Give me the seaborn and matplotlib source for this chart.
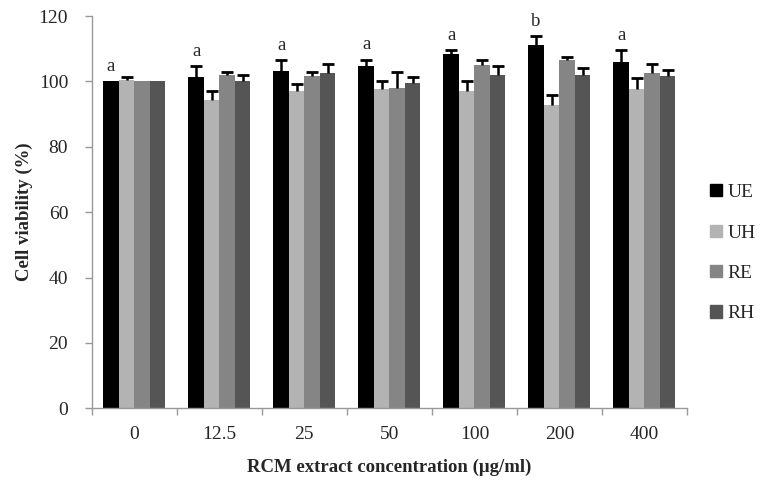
import numpy as np
import pandas as pd
import matplotlib.pyplot as plt
import seaborn as sns

# Data
concentrations = ["0", "12.5", "25", "50", "100", "200", "400"]
groups = ["UE", "UH", "RE", "RH"]
ue = [100.0, 101.2, 103.2, 104.6, 108.5, 111.0, 105.9]
uh = [100.5, 94.3, 97.0, 97.6, 97.0, 92.7, 97.6]
re = [100.0, 102.0, 101.8, 98.0, 104.9, 106.6, 102.7]
rh = [100.0, 100.2, 102.7, 99.6, 102.0, 102.0, 101.8]
ue_err = [0.0, 3.5, 3.2, 2.0, 1.0, 2.8, 3.6]
uh_err = [0.8, 2.8, 2.1, 2.4, 3.0, 3.2, 3.4]
re_err = [0.0, 0.9, 1.1, 5.0, 1.5, 0.8, 2.7]
rh_err = [0.0, 1.9, 2.5, 1.7, 2.7, 2.0, 1.6]
letters = ["a", "a", "a", "a", "a", "b", "a"]

colors = ["#000000", "#b3b3b3", "#858585", "#555555"]

df = pd.DataFrame({
    "conc": concentrations * 4,
    "group": np.repeat(groups, len(concentrations)),
    "value": ue + uh + re + rh,
})
errs = [ue_err, uh_err, re_err, rh_err]

sns.set_style("white")
plt.rcParams["font.family"] = ["Liberation Serif", "DejaVu Serif"]

fig, ax = plt.subplots(figsize=(7.78, 4.86), dpi=100)
fig.subplots_adjust(left=0.118, right=0.883, bottom=0.16, top=0.967)

sns.barplot(data=df, x="conc", y="value", hue="group", order=concentrations,
            hue_order=groups, palette=colors, width=0.73, saturation=1,
            errorbar=None, linewidth=0, ax=ax, legend=False)

# upper-only error bars, positioned from the drawn bars
for cont, err in zip(ax.containers, errs):
    pts = [(p.get_x() + p.get_width() / 2, p.get_height(), e)
           for p, e in zip(cont.patches, err) if e > 0]
    xs, hs, es = zip(*pts)
    _, caps, _ = ax.errorbar(xs, hs, yerr=[np.zeros(len(es)), es], fmt="none",
                             ecolor="black", elinewidth=1.8, capsize=4.5,
                             capthick=2)
    caps[0].set_visible(False)  # no cap at the bar top

# significance letters above UE bars
for p, e, t in zip(ax.containers[0].patches, ue_err, letters):
    ax.text(p.get_x() + p.get_width() / 2, p.get_height() + e + 2.0, t,
            ha="center", va="bottom", fontsize=13.5)

ax.set_ylim(0, 120)
ax.set_yticks(range(0, 121, 20))
ax.set_xlim(-0.5, len(concentrations) - 0.5)
ax.set_xticks(np.arange(-0.5, len(concentrations)), minor=True)
ax.tick_params(axis="x", which="major", length=0, pad=13, labelsize=14)
ax.tick_params(axis="x", which="minor", length=5, width=1, color="#999999",
               direction="out", bottom=True)
ax.tick_params(axis="y", length=5, width=1, color="#999999", direction="out",
               pad=12, labelsize=14, left=True)

for s in ["top", "right"]:
    ax.spines[s].set_visible(False)
for s in ["left", "bottom"]:
    ax.spines[s].set_color("#999999")
    ax.spines[s].set_linewidth(1)

ax.set_xlabel("RCM extract concentration (μg/ml)", fontsize=13.5,
              fontweight="bold", labelpad=11)
ax.set_ylabel("Cell viability (%)", fontsize=13.5, fontweight="bold",
              labelpad=4)

handles = [plt.Rectangle((0, 0), 1, 1, color=c) for c in colors]
fig.legend(handles, groups, loc="center left", bbox_to_anchor=(0.89, 0.479),
           frameon=False, fontsize=14, handlelength=0.6, handleheight=0.6,
           handletextpad=0.3, labelspacing=1.2)

fig.savefig("out.png", dpi=100)
